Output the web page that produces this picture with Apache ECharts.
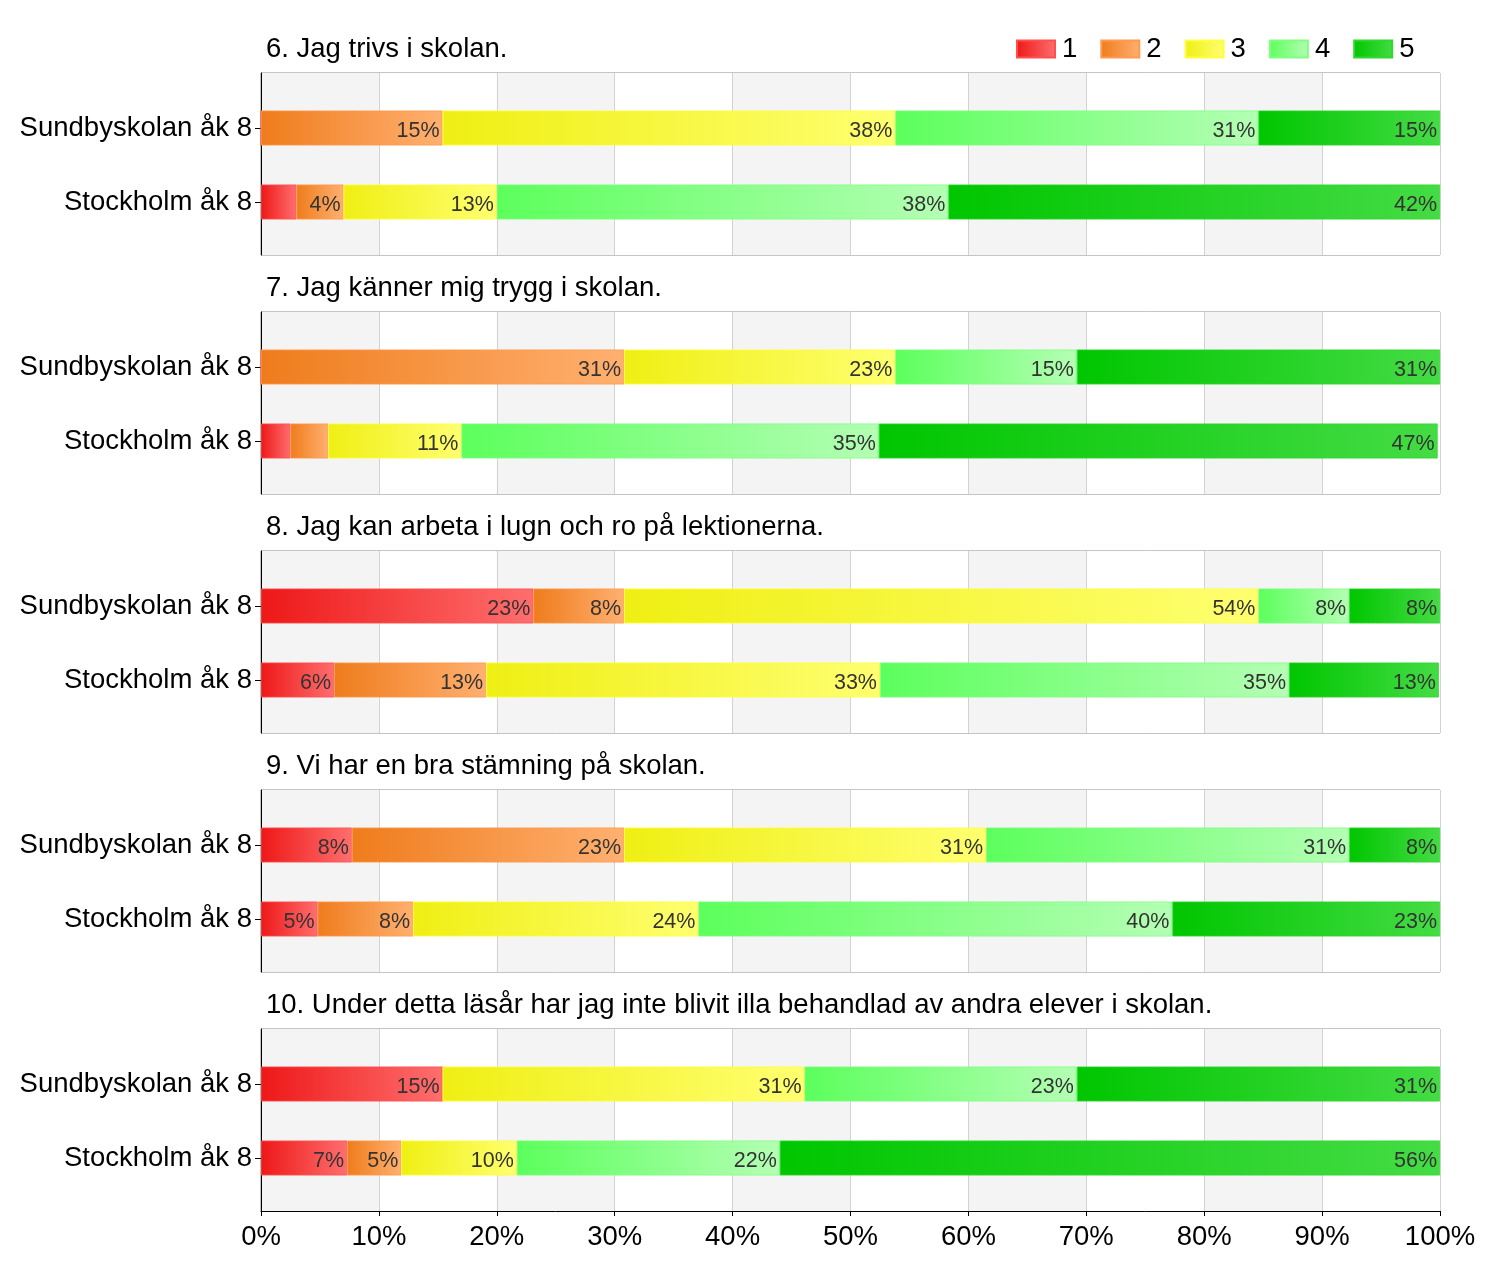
<!DOCTYPE html>
<html><head><meta charset="utf-8">
<script src="https://cdn.jsdelivr.net/npm/echarts@6/dist/echarts.min.js"></script>
<style>html,body{margin:0;padding:0;background:#fff}#c{width:1500px;height:1270px}</style>
</head><body><div id="c"></div>
<script>
const categories = ['Sundbyskolan åk 8', 'Stockholm åk 8'];
const levels = ['1', '2', '3', '4', '5'];
const titles = [
  '6. Jag trivs i skolan.',
  '7. Jag känner mig trygg i skolan.',
  '8. Jag kan arbeta i lugn och ro på lektionerna.',
  '9. Vi har en bra stämning på skolan.',
  '10. Under detta läsår har jag inte blivit illa behandlad av andra elever i skolan.'
];
const xTicks = [0, 10, 20, 30, 40, 50, 60, 70, 80, 90, 100];
// values per response level 1..5 (percent)
const q6_sundby  = [0, 15.4, 38.4, 30.8, 15.4];
const q6_sthlm   = [3.0, 4.0, 13.0, 38.3, 41.7];
const q7_sundby  = [0, 30.8, 23.0, 15.4, 30.8];
const q7_sthlm   = [2.5, 3.2, 11.3, 35.4, 47.4];
const q8_sundby  = [23.1, 7.7, 53.8, 7.7, 7.7];
const q8_sthlm   = [6.2, 12.9, 33.4, 34.7, 12.7];
const q9_sundby  = [7.7, 23.1, 30.7, 30.8, 7.7];
const q9_sthlm   = [4.8, 8.1, 24.2, 40.2, 22.7];
const q10_sundby = [15.4, 0, 30.7, 23.1, 30.8];
const q10_sthlm  = [7.3, 4.6, 9.8, 22.3, 56.0];

const panels = [
  [q6_sundby, q6_sthlm], [q7_sundby, q7_sthlm], [q8_sundby, q8_sthlm],
  [q9_sundby, q9_sthlm], [q10_sundby, q10_sthlm]
];

const grads = [
  ['#ee1818', '#ff6e6e'],
  ['#ef7c1c', '#ffb070'],
  ['#efef14', '#ffff70'],
  ['#5cff5c', '#b4ffb4'],
  ['#00c600', '#44dc44']
];
const borders = ['#ff5050', '#ff9a50', '#ffff40', '#80ff80', '#30d830'];
function grad(k) {
  return { type: 'linear', x: 0, y: 0, x2: 1, y2: 0,
    colorStops: [{ offset: 0, color: grads[k][0] }, { offset: 1, color: grads[k][1] }] };
}

const FONT = 'Liberation Sans, Arial, sans-serif';
const L = 261, R = 60, H = 182, STEP = 239, TOP0 = 73;

const grid = [], xAxis = [], yAxis = [], series = [], title = [];
panels.forEach((p, i) => {
  const top = TOP0 + STEP * i;
  const last = i === panels.length - 1;
  title.push({ text: titles[i], left: 266, top: top - 38, padding: 0,
    textStyle: { fontSize: 27.5, fontWeight: 'normal', color: '#000', fontFamily: FONT } });
  // background grid
  grid.push({ left: L, right: R, top: top, height: H, show: true,
    borderColor: '#8a8a8a', borderWidth: 1, backgroundColor: 'transparent' });
  xAxis.push({ type: 'value', gridIndex: 2 * i, min: 0, max: 100, interval: 10,
    splitArea: { show: true, areaStyle: { color: ['#f4f4f4', '#ffffff'] } },
    splitLine: { show: true, lineStyle: { color: '#d2d2d2', width: 1 } },
    axisLine: { show: last, lineStyle: { color: '#000', width: 1 } },
    axisTick: { show: last, length: 5, lineStyle: { color: '#000' } },
    axisLabel: { show: last, fontSize: 27.5, color: '#000', fontFamily: FONT, margin: 12,
      formatter: v => xTicks.includes(v) ? v + '%' : '' } });
  yAxis.push({ type: 'value', gridIndex: 2 * i, min: 0, max: 1,
    axisLine: { show: true, lineStyle: { color: '#000', width: 1 } },
    axisTick: { show: false }, axisLabel: { show: false }, splitLine: { show: false } });
  // bar grid
  grid.push({ left: L, right: R, top: top + 18, height: H - 34, show: false });
  xAxis.push({ type: 'value', gridIndex: 2 * i + 1, min: 0, max: 100, show: false });
  yAxis.push({ type: 'category', gridIndex: 2 * i + 1, data: categories, inverse: true,
    axisLine: { show: false },
    axisTick: { show: true, length: 6, alignWithLabel: true, lineStyle: { color: '#000' } },
    axisLabel: { fontSize: 27.5, color: '#000', fontFamily: FONT, margin: 9 },
    splitLine: { show: false } });
  levels.forEach((lv, k) => {
    series.push({ type: 'bar', name: lv, stack: 'p' + i,
      xAxisIndex: 2 * i + 1, yAxisIndex: 2 * i + 1,
      barWidth: 35,
      data: [p[0][k], p[1][k]],
      itemStyle: { color: grad(k), borderColor: borders[k], borderWidth: 0.8 },
      label: { show: true, position: 'insideRight', distance: 3, fontSize: 21.5,
        color: '#333', fontFamily: FONT, offset: [0, 3],
        formatter: d => d.value >= 3.5 ? Math.round(d.value) + '%' : '' },
      emphasis: { disabled: true }, animation: false });
  });
});

const chart = echarts.init(document.getElementById('c'), null, { renderer: 'canvas' });
chart.setOption({
  animation: false,
  backgroundColor: '#fff',
  title: title,
  legend: { data: levels, left: 1016, top: 35, itemWidth: 38, itemHeight: 17, itemGap: 23,
    icon: 'rect', padding: 0,
    textStyle: { fontSize: 27.5, color: '#000', fontFamily: FONT, padding: [0, 0, 0, 2] } },
  grid: grid, xAxis: xAxis, yAxis: yAxis, series: series
});
</script></body></html>
